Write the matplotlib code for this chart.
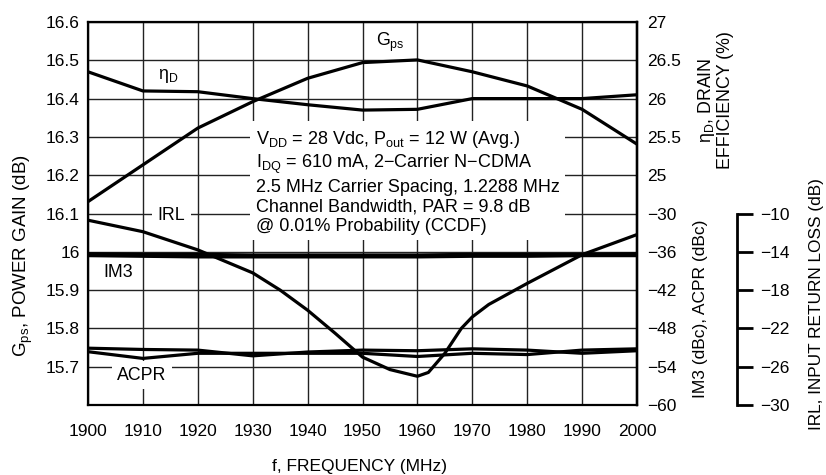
import matplotlib
matplotlib.use("Agg")
import matplotlib.pyplot as plt

# data
freq = [1900, 1910, 1920, 1930, 1940, 1950, 1960, 1970, 1980, 1990, 2000]
gps = [16.131, 16.227, 16.323, 16.392, 16.453, 16.494, 16.501, 16.470, 16.433, 16.372, 16.281]
eff = [26.35, 26.10, 26.09, 26.00, 25.92, 25.85, 25.86, 26.00, 26.00, 26.00, 26.05]
im3_a = [-36.3, -36.4, -36.4, -36.5, -36.5, -36.5, -36.5, -36.4, -36.4, -36.4, -36.3]
im3_b = [-36.6, -36.7, -36.8, -36.8, -36.8, -36.8, -36.8, -36.7, -36.7, -36.6, -36.6]
acpr_a = [-51.1, -51.3, -51.4, -52.3, -51.7, -51.4, -51.5, -51.2, -51.4, -51.9, -51.5]
acpr_b = [-51.65, -52.7, -51.9, -51.9, -51.9, -51.9, -52.4, -51.9, -52.1, -51.4, -51.2]
irl_freq = [1900, 1910, 1920, 1930, 1935, 1940, 1945, 1950, 1955, 1960, 1962, 1965,
            1968, 1970, 1973, 1980, 1990, 2000]
irl = [-10.7, -11.9, -13.8, -16.2, -18.0, -20.1, -22.5, -25.0, -26.3, -27.0, -26.6, -24.6,
       -22.0, -20.8, -19.5, -17.3, -14.3, -12.2]

gps_ticks = [15.7, 15.8, 15.9, 16, 16.1, 16.2, 16.3, 16.4, 16.5, 16.6]
gps_labels = ["15.7", "15.8", "15.9", "16", "16.1", "16.2", "16.3", "16.4", "16.5", "16.6"]
eff_ticks = [25, 25.5, 26, 26.5, 27]
eff_labels = ["25", "25.5", "26", "26.5", "27"]
im_ticks = [-60, -54, -48, -42, -36, -30]
irl_ticks = [-30, -26, -22, -18, -14, -10]

notes = ("V$_{\\rm DD}$ = 28 Vdc, P$_{\\rm out}$ = 12 W (Avg.)\n"
         "I$_{\\rm DQ}$ = 610 mA, 2\u2212Carrier N\u2212CDMA\n"
         "2.5 MHz Carrier Spacing, 1.2288 MHz\n"
         "Channel Bandwidth, PAR = 9.8 dB\n"
         "@ 0.01% Probability (CCDF)")

plt.rcParams['font.family'] = ['Liberation Sans', 'DejaVu Sans']
plt.rcParams['mathtext.fontset'] = 'custom'
plt.rcParams['mathtext.rm'] = 'Liberation Sans'
plt.rcParams['mathtext.it'] = 'Liberation Sans'
plt.rcParams['axes.unicode_minus'] = True

fs = 12.5   # tick labels
ft = 12.8   # axis titles / curve labels
fn = 13     # conditions box
lw = 2.3
fig = plt.figure(figsize=(8.26, 4.75), dpi=100)
ax = fig.add_axes([88 / 826, 1 - 405 / 475, 549 / 826, 383 / 475])

ax.set_xlim(1900, 2000)
ax.set_ylim(15.6, 16.6)
ax.set_xticks(freq)
ax.set_yticks(gps_ticks)
ax.set_yticklabels(gps_labels)
ax.grid(True, color='#222222', linewidth=1.0)
ax.tick_params(length=0, labelsize=fs, pad=6)
ax.tick_params(axis='x', pad=14)
for s in ax.spines.values():
    s.set_linewidth(1.6)

ax.plot(freq, gps, color='black', lw=lw, zorder=3)

ax_eff = ax.twinx()
ax_eff.set_ylim(22, 27)
ax_eff.set_yticks(eff_ticks)
ax_eff.set_yticklabels(eff_labels)
ax_eff.tick_params(length=0, labelsize=fs, pad=7)
ax_eff.plot(freq, eff, color='black', lw=lw)

ax_im = ax.twinx()
ax_im.set_ylim(-60, 0)
ax_im.set_yticks(im_ticks)
ax_im.set_yticklabels([str(t).replace('-', '\u2212') for t in im_ticks])
ax_im.tick_params(length=0, labelsize=fs, pad=7)
ax_im.plot(freq, im3_a, color='black', lw=lw)
ax_im.plot(freq, im3_b, color='black', lw=lw)
ax_im.plot(freq, acpr_a, color='black', lw=lw)
ax_im.plot(freq, acpr_b, color='black', lw=lw)

ax_irl = ax.twinx()
ax_irl.set_ylim(-30, 10)
ax_irl.spines['right'].set_position(('axes', (737 - 88) / 549))
ax_irl.spines['right'].set_bounds(-30, -10)
ax_irl.spines['right'].set_linewidth(2.0)
ax_irl.set_yticks(irl_ticks)
ax_irl.set_yticklabels([str(t).replace('-', '\u2212') for t in irl_ticks])
ax_irl.tick_params(direction='out', length=11.5, width=2.0, labelsize=fs, pad=5)
ax_irl.plot(irl_freq, irl, color='black', lw=lw)
for a in (ax_eff, ax_im, ax_irl):
    a.spines['top'].set_visible(False)
    a.spines['left'].set_visible(False)
    a.spines['bottom'].set_visible(False)
for a in (ax_eff, ax_im):
    a.spines['right'].set_linewidth(1.6)

# curve labels (white boxes hide the grid like the datasheet)
wb = dict(facecolor='white', edgecolor='none', pad=4)
ax.text(1955, 16.548, "G$_{\\rm ps}$", fontsize=ft, ha='center', va='center')
ax.text(1914.6, 16.46, "\u03b7$_{\\rm D}$", fontsize=ft, ha='center', va='center')
ax.text(1915.2, 16.095, "IRL", fontsize=ft, ha='center', va='center', bbox=wb)
ax.text(1905.5, 15.947, "IM3", fontsize=ft, ha='center', va='center')
ax.text(1909.8, 15.678, "ACPR", fontsize=ft, ha='center', va='center', bbox=wb)
ax.text(1930.6, 16.183, notes, fontsize=fn, ha='left', va='center', linespacing=1.2,
        bbox=dict(facecolor='white', edgecolor='none', pad=4), zorder=2.5)

fig.text(23 / 826, 1 - 256 / 475, "G$_{\\rm ps}$, POWER GAIN (dB)", fontsize=ft + 0.7,
         rotation=90, ha='center', va='center')
fig.text(360 / 826, 1 - 467 / 475, "f, FREQUENCY (MHz)", fontsize=ft - 0.3, ha='center', va='center')
fig.text(715 / 826, 1 - 100 / 475, "\u03b7$_{\\rm D}$, DRAIN\nEFFICIENCY (%)", fontsize=ft,
         rotation=90, ha='center', va='center', multialignment='center', linespacing=1.0)
fig.text(700 / 826, 1 - 309 / 475, "IM3 (dBc), ACPR (dBc)", fontsize=ft - 0.3,
         rotation=90, ha='center', va='center')
fig.text(816 / 826, 1 - 304 / 475, "IRL, INPUT RETURN LOSS (dB)", fontsize=ft - 0.4,
         rotation=90, ha='center', va='center')

fig.savefig("out.png", dpi=100)
